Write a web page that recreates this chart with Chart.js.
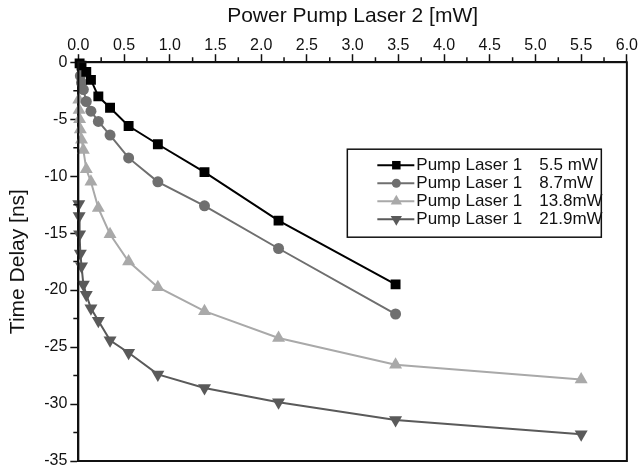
<!DOCTYPE html>
<html>
<head>
<meta charset="utf-8">
<script src="https://cdn.jsdelivr.net/npm/chart.js@4/dist/chart.umd.min.js"></script>
<style>
html, body { margin: 0; padding: 0; background: #fff; }
</style>
</head>
<body>
<canvas id="delayChart" width="639" height="472"></canvas>
<script>
// Power of pump laser 2 [mW] and time delay [ns], one pair of arrays per pump laser 1 power
const pump2_55 = [0.014, 0.035, 0.087, 0.138, 0.219, 0.347, 0.55, 0.87, 1.38, 2.19, 3.47];
const delay_55 = [-0.1, -0.3, -0.85, -1.55, -3.0, -4.0, -5.6, -7.2, -9.65, -13.9, -19.5];

const pump2_87 = [0.022, 0.035, 0.055, 0.087, 0.138, 0.219, 0.347, 0.55, 0.87, 1.38, 2.19, 3.47];
const delay_87 = [-1.2, -1.8, -2.4, -3.45, -4.3, -5.2, -6.4, -8.4, -10.5, -12.6, -16.35, -22.1];

const pump2_138 = [0.005, 0.009, 0.014, 0.022, 0.035, 0.055, 0.087, 0.138, 0.219, 0.347, 0.55, 0.87, 1.38, 2.19, 3.47, 5.5];
const delay_138 = [-3.3, -4.2, -5.0, -5.9, -6.8, -7.7, -9.4, -10.5, -12.8, -15.1, -17.5, -19.75, -21.85, -24.2, -26.55, -27.85];

const pump2_219 = [0.005, 0.009, 0.014, 0.022, 0.035, 0.055, 0.087, 0.138, 0.219, 0.347, 0.55, 0.87, 1.38, 2.19, 3.47, 5.5];
const delay_219 = [-12.45, -13.5, -15.1, -16.8, -17.9, -19.5, -20.4, -21.6, -22.7, -24.4, -25.5, -27.4, -28.6, -29.85, -31.4, -32.65];

const seriesLabels = ['Pump Laser 1', 'Pump Laser 1', 'Pump Laser 1', 'Pump Laser 1'];
const seriesPowers = ['5.5 mW', '8.7mW', '13.8mW', '21.9mW'];

const xTicks = [0.0, 0.5, 1.0, 1.5, 2.0, 2.5, 3.0, 3.5, 4.0, 4.5, 5.0, 5.5, 6.0];
const xMinorTicks = [0.25, 0.75, 1.25, 1.75, 2.25, 2.75, 3.25, 3.75, 4.25, 4.75, 5.25, 5.75];
const yTicks = [0, -5, -10, -15, -20, -25, -30, -35];
const yMinorTicks = [-2.5, -7.5, -12.5, -17.5, -22.5, -27.5, -32.5];

const ink = '#111';
const fontFamily = '"Liberation Sans", Arial, sans-serif';

function points(xs, ys) {
    return xs.map((x, i) => ({ x: x, y: ys[i] }));
}

function series(label, xs, ys, color, style, rotation, radius) {
    return {
        label: label,
        data: points(xs, ys),
        borderColor: color,
        backgroundColor: color,
        borderWidth: 2,
        pointStyle: style,
        pointRotation: rotation,
        pointRadius: radius,
        pointBorderWidth: 0,
        pointHoverRadius: radius,
        tension: 0,
        clip: 10
    };
}

// box around the plot area plus the short minor ticks
const frameAndMinorTicks = {
    id: 'frameAndMinorTicks',
    afterDraw(chart) {
        const { ctx, chartArea: a, scales } = chart;
        ctx.save();
        ctx.strokeStyle = ink;
        ctx.lineWidth = 2;
        ctx.strokeRect(a.left, a.top, a.right - a.left, a.bottom - a.top);
        ctx.lineWidth = 1.5;
        ctx.beginPath();
        xMinorTicks.forEach(v => {
            const px = scales.x.getPixelForValue(v);
            ctx.moveTo(px, a.top);
            ctx.lineTo(px, a.top - 5);
        });
        yMinorTicks.forEach(v => {
            const py = scales.y.getPixelForValue(v);
            ctx.moveTo(a.left, py);
            ctx.lineTo(a.left - 5, py);
        });
        ctx.stroke();
        ctx.restore();
    }
};

// legend boxed inside the plot, power values in their own column
const boxedLegend = {
    id: 'boxedLegend',
    afterDraw(chart) {
        const { ctx, chartArea: a } = chart;
        const left = a.left + 269, top = a.top + 87, width = 254, height = 88;
        ctx.save();
        ctx.fillStyle = '#fff';
        ctx.fillRect(left, top, width, height);
        ctx.strokeStyle = ink;
        ctx.lineWidth = 1.5;
        ctx.strokeRect(left, top, width, height);
        ctx.font = '17px ' + fontFamily;
        ctx.textBaseline = 'middle';
        chart.data.datasets.forEach((ds, i) => {
            const y = top + 16 + i * 18;
            ctx.strokeStyle = ds.borderColor;
            ctx.fillStyle = ds.backgroundColor;
            ctx.lineWidth = 2;
            ctx.beginPath();
            ctx.moveTo(left + 30, y);
            ctx.lineTo(left + 67, y);
            ctx.stroke();
            Chart.helpers.drawPoint(ctx, {
                pointStyle: ds.pointStyle,
                rotation: ds.pointRotation,
                radius: ds.pointRadius - 1,
                borderWidth: 0
            }, left + 49, y);
            ctx.fillStyle = ink;
            ctx.fillText(seriesLabels[i], left + 69, y);
            ctx.fillText(seriesPowers[i], left + 192, y);
        });
        ctx.restore();
    }
};

new Chart(document.getElementById('delayChart').getContext('2d'), {
    type: 'line',
    data: {
        datasets: [
            series(seriesLabels[0] + ' ' + seriesPowers[0], pump2_55, delay_55, '#000000', 'rect', 0, 7),
            series(seriesLabels[1] + ' ' + seriesPowers[1], pump2_87, delay_87, '#6f6f6f', 'circle', 0, 5.5),
            series(seriesLabels[2] + ' ' + seriesPowers[2], pump2_138, delay_138, '#a9a9a9', 'triangle', 0, 7.5),
            series(seriesLabels[3] + ' ' + seriesPowers[3], pump2_219, delay_219, '#5a5a5a', 'triangle', 180, 7.5)
        ]
    },
    options: {
        responsive: false,
        animation: false,
        layout: { padding: { left: 6, right: 12, top: 4, bottom: 1 } },
        scales: {
            x: {
                type: 'linear',
                position: 'top',
                min: 0,
                max: 6,
                afterBuildTicks: axis => { axis.ticks = xTicks.map(v => ({ value: v })); },
                title: {
                    display: true,
                    text: 'Power Pump Laser 2 [mW]',
                    color: ink,
                    font: { family: fontFamily, size: 21 },
                    padding: { top: 0, bottom: 7 }
                },
                ticks: {
                    color: ink,
                    font: { family: fontFamily, size: 16, lineHeight: 1.0 },
                    padding: 1,
                    maxRotation: 0,
                    callback: v => Number(v).toFixed(1)
                },
                grid: { drawOnChartArea: false, tickLength: 8, tickWidth: 1.5, tickColor: ink },
                border: { color: ink, width: 2 }
            },
            y: {
                type: 'linear',
                min: -35,
                max: 0,
                afterBuildTicks: axis => { axis.ticks = yTicks.map(v => ({ value: v })); },
                title: {
                    display: true,
                    text: 'Time Delay [ns]',
                    color: ink,
                    font: { family: fontFamily, size: 21 },
                    padding: { top: 0, bottom: 10 }
                },
                ticks: {
                    color: ink,
                    font: { family: fontFamily, size: 16, lineHeight: 1.0 },
                    padding: 3,
                    callback: v => String(v)
                },
                grid: { drawOnChartArea: false, tickLength: 8, tickWidth: 1.5, tickColor: ink },
                border: { color: ink, width: 2 }
            }
        },
        plugins: {
            legend: { display: false },
            tooltip: { enabled: false }
        }
    },
    plugins: [frameAndMinorTicks, boxedLegend]
});
</script>
</body>
</html>
